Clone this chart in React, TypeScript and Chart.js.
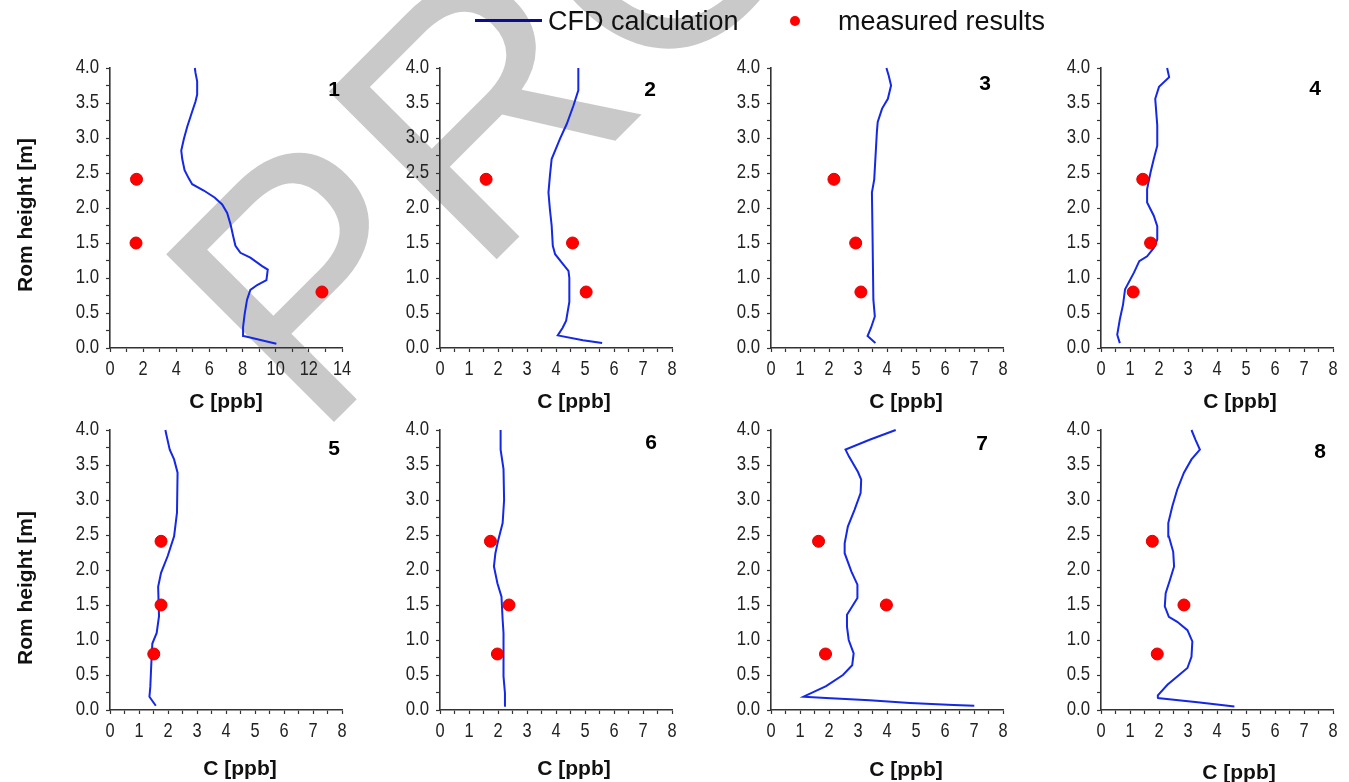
import React, { useEffect, useRef } from 'react';
import { Chart, registerables } from 'chart.js';

Chart.register(...registerables);

// ---------------- data ----------------
const measuredHeights = [2.41, 1.5, 0.8];

const cfdHeights1 = [0.06, 0.17, 0.30, 0.49, 0.69, 0.83, 0.90, 0.97, 1.12, 1.17, 1.29, 1.36, 1.46, 1.60, 1.77, 1.93, 2.05, 2.15, 2.25, 2.34, 2.42, 2.54, 2.70, 2.82, 2.99, 3.16, 3.35, 3.52, 3.62, 3.81, 3.93, 4.0];
const cfdConc1 = [10.04, 8.07, 8.03, 8.13, 8.27, 8.47, 8.88, 9.44, 9.52, 9.18, 8.47, 7.87, 7.57, 7.43, 7.27, 7.07, 6.77, 6.31, 5.66, 4.96, 4.76, 4.50, 4.36, 4.30, 4.46, 4.66, 4.92, 5.16, 5.26, 5.26, 5.16, 5.12];
const measured1 = [1.6, 1.57, 12.79];

const cfdHeights2 = [0.07, 0.11, 0.18, 0.29, 0.39, 0.66, 1.0, 1.10, 1.22, 1.34, 1.46, 1.75, 1.98, 2.22, 2.46, 2.70, 2.99, 3.20, 3.46, 3.68, 4.0];
const cfdConc2 = [5.59, 4.93, 4.06, 4.23, 4.35, 4.46, 4.46, 4.43, 4.20, 3.97, 3.89, 3.85, 3.79, 3.74, 3.79, 3.85, 4.14, 4.37, 4.60, 4.77, 4.77];
const measured2 = [1.59, 4.57, 5.04];

const cfdHeights3 = [0.07, 0.17, 0.29, 0.45, 0.69, 1.65, 2.22, 2.41, 3.08, 3.23, 3.42, 3.56, 3.75, 3.89, 4.0];
const cfdConc3 = [3.6, 3.33, 3.45, 3.58, 3.53, 3.5, 3.48, 3.56, 3.65, 3.68, 3.83, 4.03, 4.14, 4.06, 3.98];
const measured3 = [2.17, 2.92, 3.1];

const cfdHeights4 = [0.07, 0.19, 0.41, 0.62, 0.84, 1.08, 1.24, 1.31, 1.43, 1.55, 1.74, 1.89, 2.08, 2.27, 2.51, 2.70, 2.89, 3.18, 3.56, 3.73, 3.87, 4.0];
const cfdConc4 = [0.65, 0.56, 0.65, 0.76, 0.83, 1.14, 1.32, 1.59, 1.82, 1.94, 1.94, 1.82, 1.59, 1.59, 1.71, 1.82, 1.94, 1.94, 1.87, 2.0, 2.35, 2.28];
const measured4 = [1.44, 1.71, 1.11];

const cfdHeights5 = [0.06, 0.19, 0.33, 0.62, 0.95, 1.10, 1.34, 1.76, 1.96, 2.20, 2.48, 2.82, 3.39, 3.58, 3.72, 3.94, 4.0];
const cfdConc5 = [1.58, 1.36, 1.39, 1.42, 1.46, 1.61, 1.69, 1.66, 1.76, 1.99, 2.21, 2.31, 2.33, 2.21, 2.06, 1.94, 1.91];
const measured5 = [1.76, 1.76, 1.51];

const cfdHeights6 = [0.06, 0.24, 0.48, 1.10, 1.29, 1.62, 1.81, 2.05, 2.24, 2.43, 2.67, 3.0, 3.44, 3.72, 4.0];
const cfdConc6 = [2.21, 2.24, 2.19, 2.19, 2.16, 2.12, 1.98, 1.86, 1.91, 2.01, 2.16, 2.21, 2.19, 2.09, 2.09];
const measured6 = [1.74, 2.38, 1.98];

const cfdHeights7 = [0.06, 0.07, 0.10, 0.14, 0.17, 0.19, 0.34, 0.50, 0.64, 0.81, 1.0, 1.19, 1.36, 1.50, 1.60, 1.79, 1.98, 2.24, 2.38, 2.62, 2.86, 3.10, 3.29, 3.40, 3.62, 3.72, 3.86, 4.0];
const cfdConc7 = [7.01, 6.29, 4.79, 3.40, 1.90, 1.12, 1.90, 2.48, 2.80, 2.85, 2.68, 2.62, 2.62, 2.83, 2.98, 2.98, 2.77, 2.54, 2.54, 2.65, 2.88, 3.09, 3.11, 3.0, 2.69, 2.57, 3.40, 4.30];
const measured7 = [1.64, 3.98, 1.88];

const cfdHeights8 = [0.05, 0.11, 0.17, 0.21, 0.36, 0.48, 0.60, 0.76, 0.98, 1.14, 1.26, 1.33, 1.48, 1.67, 1.86, 2.05, 2.26, 2.48, 2.67, 2.91, 3.15, 3.39, 3.58, 3.72, 3.86, 4.0];
const cfdConc8 = [4.6, 3.33, 1.94, 1.96, 2.29, 2.63, 2.98, 3.12, 3.15, 2.98, 2.63, 2.34, 2.20, 2.23, 2.38, 2.52, 2.49, 2.34, 2.32, 2.46, 2.63, 2.86, 3.12, 3.41, 3.26, 3.12];
const measured8 = [1.77, 2.86, 1.94];

const panelLabels = ['1', '2', '3', '4', '5', '6', '7', '8'];
const xMaxes = [14, 8, 8, 8, 8, 8, 8, 8];
const xLabelSteps = [2, 1, 1, 1, 1, 1, 1, 1];
const yMax = 4;
const yLabelStep = 0.5;

const legendLineLabel = 'CFD calculation';
const legendPointLabel = 'measured results';
const yTitle = 'Rom height [m]';
const xTitle = 'C [ppb]';
const watermarkText = 'PRO';

const panels = [
  { conc: cfdConc1, h: cfdHeights1, meas: measured1 },
  { conc: cfdConc2, h: cfdHeights2, meas: measured2 },
  { conc: cfdConc3, h: cfdHeights3, meas: measured3 },
  { conc: cfdConc4, h: cfdHeights4, meas: measured4 },
  { conc: cfdConc5, h: cfdHeights5, meas: measured5 },
  { conc: cfdConc6, h: cfdHeights6, meas: measured6 },
  { conc: cfdConc7, h: cfdHeights7, meas: measured7 },
  { conc: cfdConc8, h: cfdHeights8, meas: measured8 },
];

// ---------------- layout ----------------
const COL_LEFT = [110, 440, 771, 1101];
const ROW_TOP = [68, 430];
const PLOT_W = 232;
const PLOT_H = 280;
const PAD_L = 80;
const PAD_T = 20;
const PAD_R = 20;
const PAD_B = 50;

const SANS = '"Liberation Sans", Arial, Helvetica, sans-serif';
const LINE_COLOR = '#1428e6';
const DOT_COLOR = '#ff0000';
const AXIS_COLOR = '#333333';
const TICK_TEXT = '#222222';

const xTitlePos = [
  [226, 400], [574, 400], [906, 400], [1240, 400],
  [240, 767], [574, 767], [906, 768], [1239, 771],
];
const numberPos = [
  [334, 88], [650, 88], [985, 82], [1315, 87],
  [334, 447], [651, 441], [982, 442], [1320, 450],
];

function isMultiple(v: number, step: number) {
  const r = v / step;
  return Math.abs(r - Math.round(r)) < 1e-6;
}

// Draws narrow (horizontally condensed) tick labels at the scales' own tick positions
const narrowTicks = {
  id: 'narrowTicks',
  afterDraw(chart: any, _args: any, opts: any) {
    const ctx = chart.ctx;
    const xs = chart.scales.x;
    const ys = chart.scales.y;
    const xStep = opts.xStep || 1;
    ctx.save();
    ctx.fillStyle = TICK_TEXT;
    ctx.font = `21px ${SANS}`;
    ctx.textAlign = 'center';
    ctx.textBaseline = 'alphabetic';
    xs.ticks.forEach((t: any) => {
      if (!isMultiple(t.value, xStep)) return;
      const px = xs.getPixelForValue(t.value);
      ctx.save();
      ctx.translate(px, xs.top + 27);
      ctx.scale(0.78, 1);
      ctx.fillText(String(Math.round(t.value)), 0, 0);
      ctx.restore();
    });
    ctx.textAlign = 'right';
    ctx.textBaseline = 'middle';
    ys.ticks.forEach((t: any) => {
      if (!isMultiple(t.value, yLabelStep)) return;
      const py = ys.getPixelForValue(t.value);
      ctx.save();
      ctx.translate(ys.right - 11, py - 1);
      ctx.scale(0.8, 1);
      ctx.fillText(Number(t.value).toFixed(1), 0, 0);
      ctx.restore();
    });
    ctx.restore();
  },
};

function Panel({ idx }: { idx: number }) {
  const ref = useRef<HTMLCanvasElement | null>(null);
  const col = idx % 4;
  const row = Math.floor(idx / 4);
  const W = PAD_L + PLOT_W + PAD_R;
  const H = PAD_T + PLOT_H + PAD_B;
  const left = COL_LEFT[col] - PAD_L;
  const top = ROW_TOP[row] - PAD_T;

  useEffect(() => {
    const p = panels[idx];
    const xMax = xMaxes[idx];
    const xStep = xLabelSteps[idx];
    const chart = new Chart(ref.current as HTMLCanvasElement, {
      type: 'scatter',
      data: {
        datasets: [
          {
            label: legendPointLabel,
            data: p.meas.map((c, i) => ({ x: c, y: measuredHeights[i] })),
            showLine: false,
            pointRadius: 6,
            pointBackgroundColor: DOT_COLOR,
            pointBorderColor: '#e00000',
            pointBorderWidth: 1,
            clip: false,
          },
          {
            label: legendLineLabel,
            data: p.conc.map((c, i) => ({ x: c, y: p.h[i] })),
            showLine: true,
            borderColor: LINE_COLOR,
            borderWidth: 2,
            pointRadius: 0,
            tension: 0,
            clip: false,
          },
        ],
      } as any,
      plugins: [narrowTicks],
      options: {
        animation: false,
        responsive: false,
        events: [],
        layout: { padding: { top: PAD_T, right: PAD_R, left: 0, bottom: 0 } },
        plugins: {
          legend: { display: false },
          tooltip: { enabled: false },
          narrowTicks: { xStep },
        },
        scales: {
          x: {
            type: 'linear',
            position: 'bottom',
            min: 0,
            max: xMax,
            afterFit: (s: any) => { s.height = PAD_B; },
            ticks: {
              display: false,
              stepSize: xStep / 2,
              autoSkip: false,
              maxRotation: 0,
              minRotation: 0,
            },
            grid: { drawOnChartArea: false, drawTicks: true, tickLength: 4, color: AXIS_COLOR, tickWidth: 1.2 },
            border: { display: true, color: AXIS_COLOR, width: 1.6 },
          },
          y: {
            type: 'linear',
            position: 'left',
            min: 0,
            max: yMax,
            afterFit: (s: any) => { s.width = PAD_L; },
            ticks: {
              display: false,
              stepSize: yLabelStep / 2,
              autoSkip: false,
            },
            grid: { drawOnChartArea: false, drawTicks: true, tickLength: 4, color: AXIS_COLOR, tickWidth: 1.2 },
            border: { display: true, color: AXIS_COLOR, width: 1.6 },
          },
        },
      } as any,
    });
    return () => chart.destroy();
  }, [idx]);

  return (
    <canvas
      ref={ref}
      width={W}
      height={H}
      style={{ position: 'absolute', left, top, width: W, height: H, zIndex: 1 }}
    />
  );
}

function Watermark() {
  const ref = useRef<HTMLCanvasElement | null>(null);
  useEffect(() => {
    const c = ref.current;
    if (!c) return;
    const ctx = c.getContext('2d');
    if (!ctx) return;
    ctx.clearRect(0, 0, c.width, c.height);
    ctx.save();
    ctx.fillStyle = '#c9c9c9';
    ctx.font = `345px ${SANS}`;
    ctx.textBaseline = 'alphabetic';
    ctx.translate(314, 442);
    ctx.rotate(-Math.PI / 4);
    ctx.fillText(watermarkText, 0, 0);
    ctx.restore();
  }, []);
  return (
    <canvas
      ref={ref}
      width={1349}
      height={782}
      style={{ position: 'absolute', left: 0, top: 0, width: 1349, height: 782, zIndex: 0 }}
    />
  );
}

const textBase: React.CSSProperties = {
  position: 'absolute',
  whiteSpace: 'nowrap',
  lineHeight: 1,
  zIndex: 2,
  color: '#111',
  fontFamily: SANS,
};

export default function App() {
  return (
    <div style={{ position: 'absolute', left: 0, top: 0, width: 1349, height: 782, overflow: 'hidden', background: '#fff' }}>
      <Watermark />
      {panels.map((_, i) => (
        <Panel key={i} idx={i} />
      ))}

      {/* legend */}
      <div style={{ position: 'absolute', left: 475, top: 19, width: 67, height: 2.5, background: '#0c0c8c', zIndex: 2 }} />
      <div style={{ ...textBase, left: 548, top: 21, fontSize: 27, transform: 'translateY(-50%)' }}>{legendLineLabel}</div>
      <div style={{ position: 'absolute', left: 790, top: 16, width: 10, height: 10, borderRadius: '50%', background: DOT_COLOR, zIndex: 2 }} />
      <div style={{ ...textBase, left: 838, top: 21, fontSize: 27, transform: 'translateY(-50%)' }}>{legendPointLabel}</div>

      {/* y titles */}
      {[215, 588].map((y, i) => (
        <div key={'yt' + i} style={{ ...textBase, left: 24, top: y, fontSize: 21, fontWeight: 'bold', transform: 'translate(-50%, -50%) rotate(-90deg)' }}>
          {yTitle}
        </div>
      ))}

      {/* x titles */}
      {xTitlePos.map(([x, y], i) => (
        <div key={'xt' + i} style={{ ...textBase, left: x, top: y, fontSize: 21, fontWeight: 'bold', transform: 'translate(-50%, -50%)' }}>
          {xTitle}
        </div>
      ))}

      {/* panel numbers */}
      {numberPos.map(([x, y], i) => (
        <div key={'pn' + i} style={{ ...textBase, left: x, top: y, fontSize: 21, fontWeight: 900, color: '#000', transform: 'translate(-50%, -50%)' }}>
          {panelLabels[i]}
        </div>
      ))}
    </div>
  );
}
